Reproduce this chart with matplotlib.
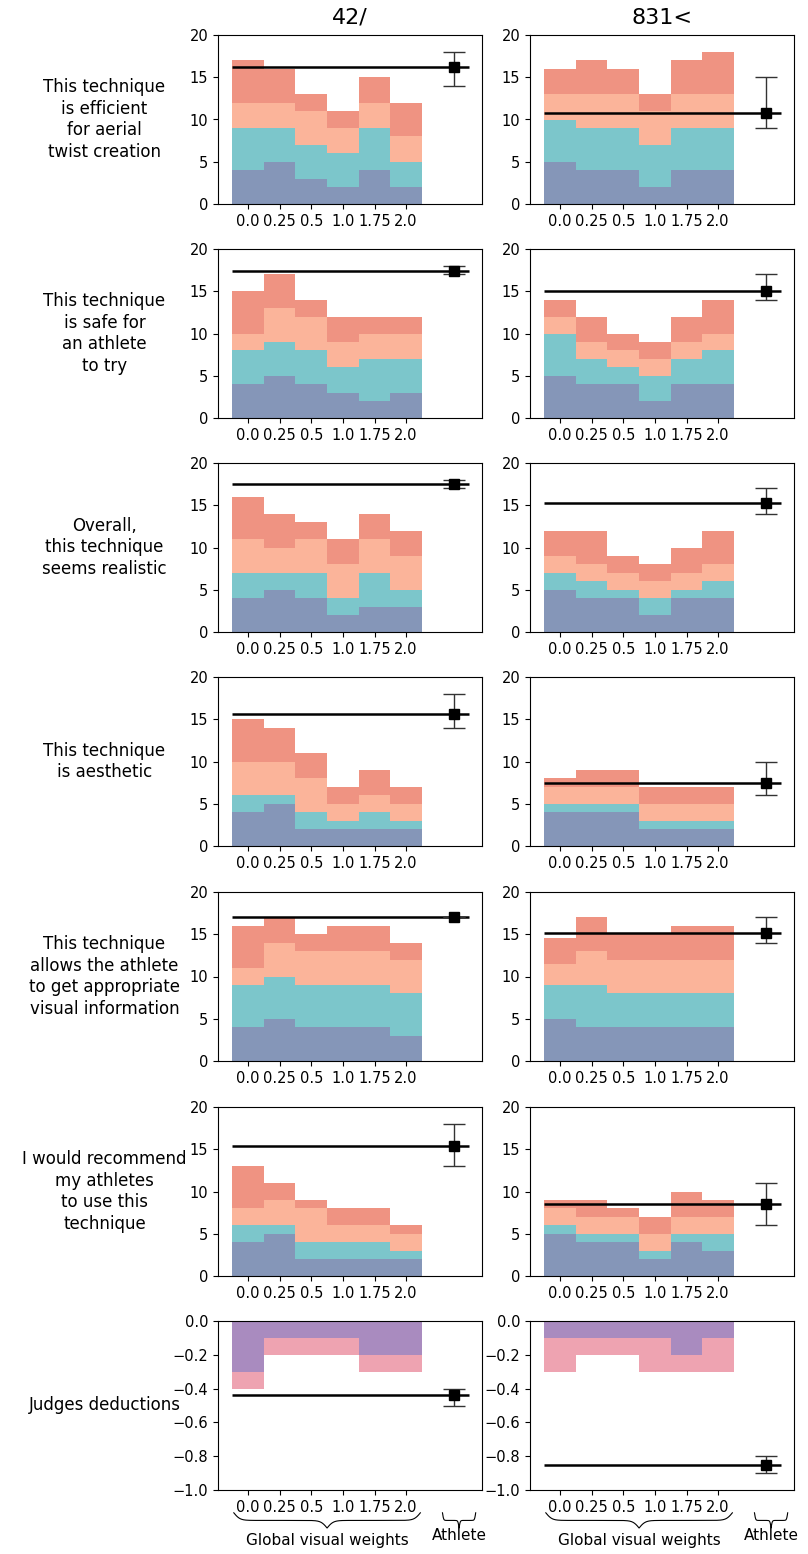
import matplotlib
matplotlib.use("Agg")
import matplotlib.pyplot as plt
import numpy as np
from matplotlib.transforms import blended_transform_factory

# ---- data ----
weights = ["0.0", "0.25", "0.5", "1.0", "1.75", "2.0"]
columns = ["42/", "831<"]
questions = [
    "This technique\nis efficient\nfor aerial\ntwist creation",
    "This technique\nis safe for\nan athlete\nto try",
    "Overall,\nthis technique\nseems realistic",
    "This technique\nis aesthetic",
    "This technique\nallows the athlete\nto get appropriate\nvisual information",
    "I would recommend\nmy athletes\nto use this\ntechnique",
    "Judges deductions",
]

# cumulative tops of each stacked layer: [blue, teal, light salmon, salmon]
left_stacks = [
    [[4, 5, 3, 2, 4, 2], [9, 9, 7, 6, 9, 5], [12, 12, 11, 9, 12, 8], [17, 16, 13, 11, 15, 12]],
    [[4, 5, 4, 3, 2, 3], [8, 9, 8, 6, 7, 7], [10, 13, 12, 9, 10, 10], [15, 17, 14, 12, 12, 12]],
    [[4, 5, 4, 2, 3, 3], [7, 7, 7, 4, 7, 5], [11, 10, 11, 8, 11, 9], [16, 14, 13, 11, 14, 12]],
    [[4, 5, 2, 2, 2, 2], [6, 6, 4, 3, 4, 3], [10, 10, 8, 5, 6, 5], [15, 14, 11, 7, 9, 7]],
    [[4, 5, 4, 4, 4, 3], [9, 10, 9, 9, 9, 8], [11, 14, 13, 13, 13, 12], [16, 17, 15, 16, 16, 14]],
    [[4, 5, 2, 2, 2, 2], [6, 6, 4, 4, 4, 3], [8, 9, 8, 6, 6, 5], [13, 11, 9, 8, 8, 6]],
]
right_stacks = [
    [[5, 4, 4, 2, 4, 4], [10, 9, 9, 7, 9, 9], [13, 13, 13, 11, 13, 13], [16, 17, 16, 13, 17, 18]],
    [[5, 4, 4, 2, 4, 4], [10, 7, 6, 5, 7, 8], [12, 9, 8, 7, 9, 10], [14, 12, 10, 9, 12, 14]],
    [[5, 4, 4, 2, 4, 4], [7, 6, 5, 4, 5, 6], [9, 8, 7, 6, 7, 8], [12, 12, 9, 8, 10, 12]],
    [[4, 4, 4, 2, 2, 2], [5, 5, 5, 3, 3, 3], [7, 7, 7, 5, 5, 5], [8, 9, 9, 7, 7, 7]],
    [[5, 4, 4, 4, 4, 4], [9, 9, 8, 8, 8, 8], [11.5, 13, 12, 12, 12, 12], [14.5, 17, 15, 15, 16, 16]],
    [[5, 4, 4, 2, 4, 3], [6, 5, 5, 3, 5, 5], [8, 7, 7, 5, 7, 7], [9, 9, 8, 7, 10, 9]],
]
# athlete mean and error range (low, high)
left_athlete = [(16.2, 14, 18), (17.4, 17, 18), (17.5, 17, 18), (15.6, 14, 18), (17.0, 17, 17), (15.4, 13, 18)]
right_athlete = [(10.8, 9, 15), (15.0, 14, 17), (15.3, 14, 17), (7.5, 6, 10), (15.2, 14, 17), (8.5, 6, 11)]

# judges deductions: cumulative [purple, pink] (negative)
left_deduct = [[-0.3, -0.1, -0.1, -0.1, -0.2, -0.2], [-0.4, -0.2, -0.2, -0.2, -0.3, -0.3]]
right_deduct = [[-0.1, -0.1, -0.1, -0.1, -0.2, -0.1], [-0.3, -0.2, -0.2, -0.3, -0.3, -0.3]]
left_deduct_athlete = (-0.44, -0.5, -0.4)
right_deduct_athlete = (-0.85, -0.9, -0.8)

layer_colors = ["#8596b8", "#7cc6cb", "#fbb49a", "#ef9382"]
deduct_colors = ["#a98bbf", "#eea3b1"]

fig = plt.figure(figsize=(8.08, 15.54), dpi=100)
W, H = 808, 1554
col_x = [218, 530]
ax_w = 264
row_y = [35, 249, 463, 677, 892, 1107, 1321]
ax_h = 169
x = np.arange(len(weights))


def add_axes(px, py):
    return fig.add_axes([px / W, 1 - (py + ax_h) / H, ax_w / W, ax_h / H])


def draw_athlete(ax, mean, lo, hi):
    ax.hlines(mean, -0.5, 7.0, color="black", lw=1.8, zorder=4)
    ax.errorbar([6.5], [mean], yerr=[[mean - lo], [hi - mean]], fmt="s", color="black",
                ms=7, ecolor="#333333", elinewidth=1.0, capsize=8, zorder=5)


def brace(ax, x0, x1, y0, h):
    # curly brace pointing down, x in data coords, y in axes coords
    tr = blended_transform_factory(ax.transData, ax.transAxes)
    n = 200
    half = (x1 - x0) / 2
    xs = np.linspace(0, half, n)
    beta = 60.0 / (x1 - x0)
    yh = 1 / (1 + np.exp(-beta * (xs - xs[0]))) + 1 / (1 + np.exp(-beta * (xs - xs[-1])))
    yh = yh - yh[0]
    yh = yh / yh.max()
    xx = np.concatenate([x0 + xs, x0 + half + xs])
    yy = np.concatenate([yh, yh[::-1]])
    ax.plot(xx, y0 - h * yy, transform=tr, color="black", lw=0.8, clip_on=False)


for r in range(7):
    for c in range(2):
        ax = add_axes(col_x[c], row_y[r])
        if r < 6:
            stacks = (left_stacks if c == 0 else right_stacks)[r]
            bottom = np.zeros(len(x))
            for top, col in zip(stacks, layer_colors):
                top = np.array(top, dtype=float)
                ax.bar(x, top - bottom, bottom=bottom, width=1.0, color=col, lw=0, zorder=2)
                bottom = top
            mean, lo, hi = (left_athlete if c == 0 else right_athlete)[r]
            draw_athlete(ax, mean, lo, hi)
            ax.set_ylim(0, 20)
            ax.set_yticks([0, 5, 10, 15, 20])
        else:
            stacks = left_deduct if c == 0 else right_deduct
            bottom = np.zeros(len(x))
            for top, col in zip(stacks, deduct_colors):
                top = np.array(top, dtype=float)
                ax.bar(x, top - bottom, bottom=bottom, width=1.0, color=col, lw=0, zorder=2)
                bottom = top
            mean, lo, hi = left_deduct_athlete if c == 0 else right_deduct_athlete
            draw_athlete(ax, mean, lo, hi)
            ax.set_ylim(-1.0, 0.0)
            ax.set_yticks(np.round(np.arange(-1.0, 0.01, 0.2), 1))
            brace(ax, -0.45, 5.45, -0.135, 0.09)
            brace(ax, 6.15, 7.2, -0.135, 0.09)
            tr = blended_transform_factory(ax.transData, ax.transAxes)
            ax.text(2.5, -0.3, "Global visual weights", transform=tr,
                    ha="center", va="center", fontsize=11)
            ax.text(6.7, -0.27, "Athlete", transform=tr,
                    ha="center", va="center", fontsize=11)
        ax.set_xlim(-0.95, 7.4)
        ax.set_xticks(x)
        ax.set_xticklabels(weights)
        ax.tick_params(labelsize=10.5, length=3.5)
        if r == 0:
            ax.set_title(columns[c], fontsize=16, pad=8)
        if c == 0:
            ax.text(-0.43, 0.5, questions[r], transform=ax.transAxes, ha="center", va="center",
                    fontsize=12, linespacing=1.25)

fig.savefig("out.png", dpi=100)
